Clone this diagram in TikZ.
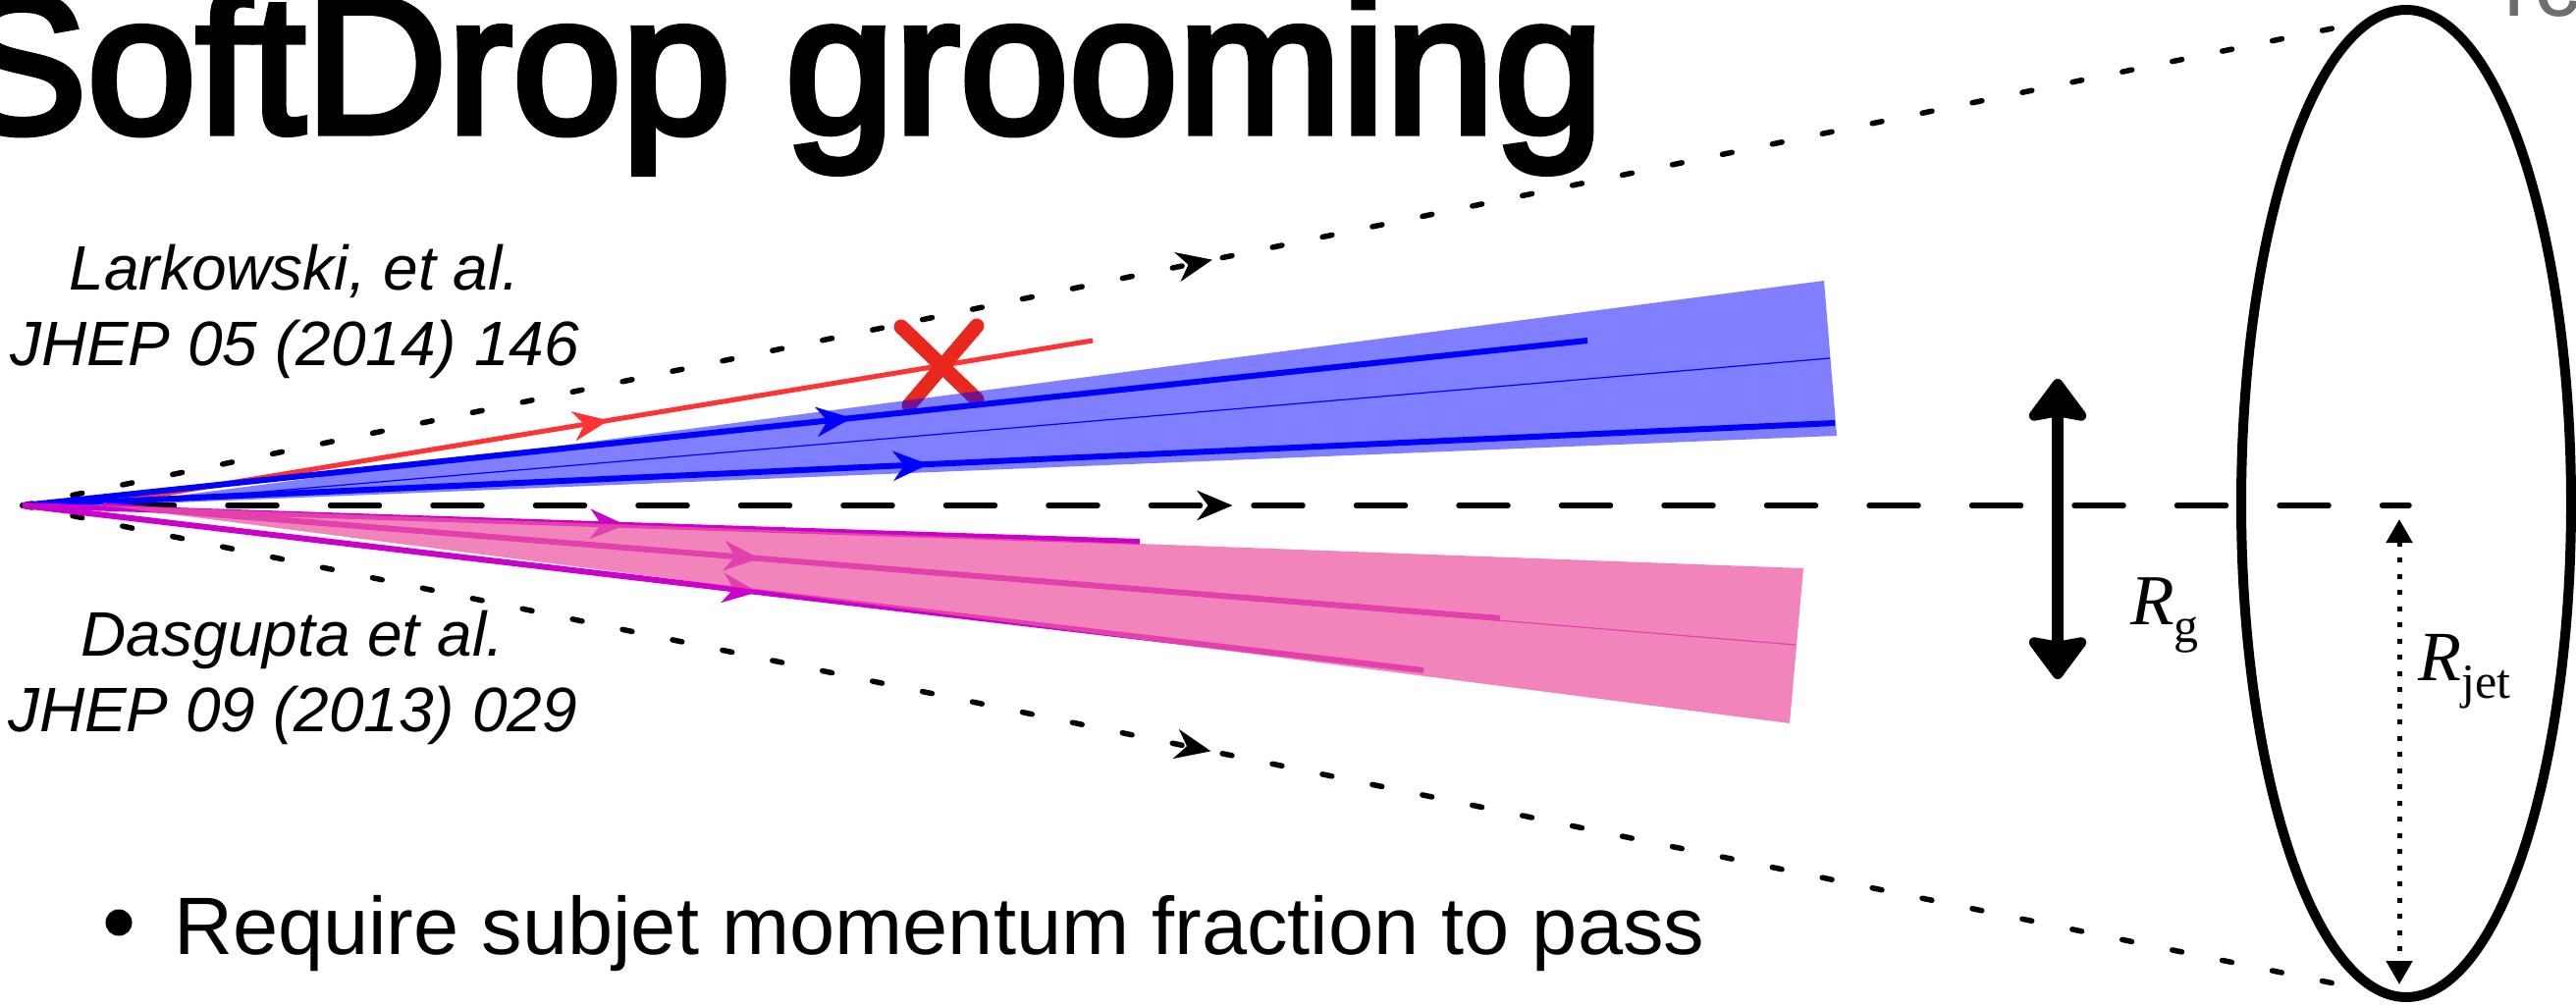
\documentclass[tikz,border=0pt]{standalone}
\usepackage{fontspec}
\setmainfont{Liberation Sans}
\newfontfamily\serifR{Liberation Serif}
\newfontfamily\titlefont[FakeBold=3.5]{Liberation Sans}
\usetikzlibrary{arrows.meta,decorations.markings}
\definecolor{jetblue}{RGB}{0,0,255}
\definecolor{jetred}{RGB}{255,51,51}
\definecolor{xred}{RGB}{232,40,28}
\definecolor{jetmag}{RGB}{204,0,204}
\definecolor{pinkfill}{RGB}{237,89,162}
\definecolor{greytxt}{RGB}{110,110,110}
\tikzset{
  midarrow/.style={postaction={decorate,decoration={markings,
     mark=at position #1 with {\arrow{Stealth[length=36pt,width=30pt,inset=11pt]}}}}},
  axisline/.style={black,line width=5.5pt,line cap=round,dash pattern=on 50pt off 54.5pt},
  dotline/.style={black,line width=5.5pt,line cap=round,dash pattern=on 10pt off 42pt},
  jetline/.style={line width=6pt},
  thinline/.style={line width=1.2pt},
  reftext/.style={anchor=base,inner sep=0pt,font=\itshape\fontsize{64}{77}\selectfont},
}
\begin{document}
\begin{tikzpicture}[x=1pt,y=-1pt]
\useasboundingbox (0,0) rectangle (2624,1025);
\clip (0,0) rectangle (2624,1025);
\fill[white] (0,0) rectangle (2624,1025);

% key points
\coordinate (apex) at (23,515);
\coordinate (capex) at (105,515);
\coordinate (axEnd) at (2454,515);
\coordinate (upEnd) at (2395,25);
\coordinate (loEnd) at (2392,1005);

% axis and cone boundaries
\draw[axisline,midarrow=0.507] (apex) -- (axEnd);
\draw[dotline,midarrow=0.511] (apex) -- (upEnd);
\draw[dotline,midarrow=0.511] (apex) -- (loEnd);

% jet ellipse
\coordinate (ellC) at (2451,513);
\draw[black,line width=10pt] (ellC) ellipse [x radius=168pt, y radius=503pt];

% R_jet arrow
\coordinate (rjTop) at (2444,529);
\coordinate (rjBot) at (2444,1003);
\draw[black,line width=5pt,dash pattern=on 5pt off 11.5pt,
  {Triangle[length=24pt,width=26pt]}-{Triangle[length=24pt,width=26pt]}] (rjTop) -- (rjBot);

% R_g arrow
\coordinate (rgTop) at (2096,386);
\coordinate (rgBot) at (2096,692);
\draw[black,line width=12pt,
  {Stealth[length=48pt,width=70pt,inset=6pt,round]}-{Stealth[length=48pt,width=70pt,inset=6pt,round]}] (rgTop) -- (rgBot);

% red (dropped) branch
\coordinate (redEnd) at (1113,347);
\coordinate (redStart) at (107,513);
\draw[jetred,line width=5pt,midarrow=0.51] (redStart) -- (redEnd);
\coordinate (xa) at (918,333);
\coordinate (xb) at (995,407);
\coordinate (xc) at (995,332);
\coordinate (xd) at (926,413);
\draw[xred,line width=15pt,line cap=round] (xa) -- (xb);
\draw[xred,line width=15pt,line cap=round] (xc) -- (xd);

% blue subjet
\coordinate (bTop) at (1858,286);
\coordinate (bBot) at (1871,444);
\coordinate (bMid) at (1864,365);
\coordinate (bUpEnd) at (1617,347);
\coordinate (bLoEnd) at (1869,431);
\draw[jetblue,jetline,midarrow=0.53] (apex) -- (bUpEnd);
\draw[jetblue,jetline,midarrow=0.50] (apex) -- (bLoEnd);
\draw[jetblue,thinline] (capex) -- (bMid);
\fill[jetblue,opacity=0.5] (capex) -- (bTop) -- (bBot) -- cycle;

% pink subjet
\coordinate (pTop) at (1837,579);
\coordinate (pBot) at (1823,737);
\coordinate (pMid) at (1829,657);
\coordinate (mUpEnd) at (1161,552);
\coordinate (mMidEnd) at (1528,630);
\coordinate (mLoEnd) at (1450,683);
\draw[jetmag,jetline,midarrow=0.54] (apex) -- (mUpEnd);
\draw[jetmag,jetline,midarrow=0.47] (capex) -- (mMidEnd);
\draw[jetmag,jetline,midarrow=0.525] (apex) -- (mLoEnd);
\draw[jetmag,thinline] (capex) -- (pMid);
\fill[pinkfill,opacity=0.73] (capex) -- (pTop) -- (pBot) -- cycle;

% texts
\node[anchor=base west,inner sep=0pt] (title) at (-45,135) {\titlefont\fontsize{200}{200}\selectfont SoftDrop grooming};
\node[reftext] (lark1) at (300,295) {Larkowski, et al.};
\node[reftext] (lark2) at (300,372) {JHEP 05 (2014) 146};
\node[reftext] (dasg1) at (298,668) {Dasgupta et al.};
\node[reftext] (dasg2) at (298,745) {JHEP 09 (2013) 029};
\node[circle,fill=black,inner sep=0pt,minimum size=27pt] (bullet) at (121,940) {};
\node[anchor=base west,inner sep=0pt] (req) at (177,972) {\fontsize{83}{83}\selectfont Require subjet momentum fraction to pass};
\node[anchor=base west,inner sep=0pt] (rg) at (2170,636) {\serifR\fontsize{73}{73}\selectfont\itshape R\raisebox{-18pt}{\upshape\fontsize{50}{50}\selectfont g}};
\node[anchor=base west,inner sep=0pt] (rjet) at (2463,693) {\serifR\fontsize{72}{72}\selectfont\itshape R\raisebox{-18pt}{\upshape\fontsize{50}{50}\selectfont jet}};
\node[anchor=base west,inner sep=0pt,text=greytxt] (corner) at (2550,17) {\fontsize{95}{95}\selectfont rc};
\end{tikzpicture}
\end{document}
